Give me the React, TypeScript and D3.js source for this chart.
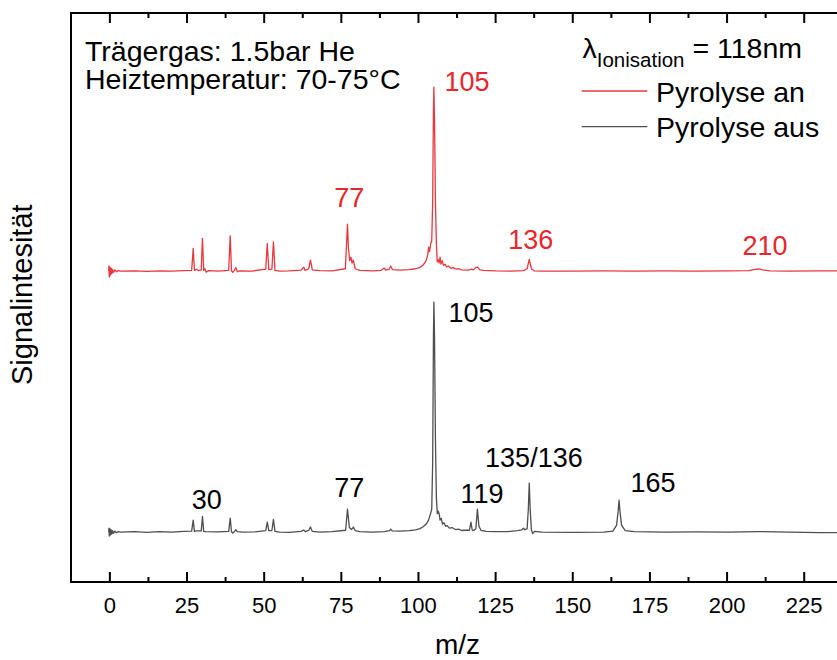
import React from "react";
import * as d3 from "d3";

// Mass spectra: [m/z, signal] pairs. Signal is relative (m/z 105 without pyrolysis = 100).
const ausTrace: [number, number][] = [
  [-0.4, 0], [-0.3, 1.7], [-0.2, -1.7], [-0.1, 1.5], [0, -1.4], [0.15, 1.2], [0.3, -1.1], [0.5, 0.9],
  [0.7, -0.8], [0.9, 0.6], [1.2, -0.5], [1.6, 0.4], [2.1, -0.3], [2.7, 0.2], [3.5, 0],
  [8, 0.2], [12, -0.1], [16, 0.2], [20, 0], [24, 0.3], [26.5, 0.4], [27, 5.2], [27.4, 0.3], [28, 0.5],
  [29.6, 0.5], [30, 6.8], [30.4, 0.3], [31, 0.2], [35, 0.1], [38.5, 0.3], [39, 6.1], [39.4, 0.2],
  [39.8, -0.4], [40.4, 0.3], [40.8, 1.1], [41.3, 0.2], [43, 0], [47, 0.1], [50.5, 0.6], [51, 4.3],
  [51.5, 0.6], [52.5, 0.7], [53, 5.5], [53.5, 0.3], [55, 0], [58, -0.1], [62, 0.3], [62.8, 0.9],
  [63.3, 0.2], [64.4, 0.7], [65, 2.2], [65.6, 0.3], [68, 0], [72, 0.2], [76.4, 0.8], [77, 10],
  [77.6, 2], [78.3, 1.1], [78.9, 2.2], [79.5, 0.6], [81, 0.2], [85, 0], [89, 0.2], [90.6, 0.6],
  [91, 1.3], [91.5, 0.5], [94, 0.4], [97, 0.6], [99, 1], [100.5, 1.5], [101.5, 2.3], [102.5, 3.5],
  [103.2, 5], [103.8, 7.5], [104.3, 10], [104.6, 30], [104.85, 85], [105, 100], [105.2, 85],
  [105.5, 40], [105.8, 15], [106.1, 8], [106.4, 9.1], [106.7, 8], [107, 5.2], [107.4, 6], [107.8, 3.5],
  [108.3, 4], [108.8, 2.5], [109.3, 2.8], [110, 1.7], [111, 1.9], [112, 1.1], [113, 1.3], [114, 0.7],
  [115, 0.8], [116.5, 0.8], [117, 4.3], [117.4, 0.9], [118, 0.8], [118.6, 1.5], [119.1, 10],
  [119.6, 2.5], [120.3, 0.7], [122, 0.3], [125, 0.2], [129, 0.2], [132, 0.6], [133.5, 1], [134, 1.7],
  [134.5, 1], [135.2, 1.5], [135.6, 10], [135.9, 21.3], [136.2, 10], [136.6, 1], [137, -0.6],
  [137.6, 0.3], [140, 0], [150, -0.1], [160, 0], [163, 0.4], [164.2, 3], [164.7, 9], [165, 13.9],
  [165.3, 9], [165.8, 3], [167, 0.6], [170, 0.2], [180, 0], [190, 0.1], [200, 0], [210, 0.2],
  [220, 0], [230, -0.2], [240, -0.3],
];

const anTrace: [number, number][] = [
  [-0.4, 0], [-0.3, 2.2], [-0.2, -2.6], [-0.1, 1.8], [0, -2], [0.15, 1.4], [0.3, -1.5], [0.5, 1.1],
  [0.7, -1], [0.9, 0.7], [1.2, -0.6], [1.6, 0.5], [2.1, -0.3], [2.7, 0.2], [3.5, 0],
  [8, 0.1], [12, -0.1], [16, 0.1], [20, 0], [24, 0.2], [26.5, 0.3], [27, 9.9], [27.4, 0.3], [28, 0.8],
  [28.6, 0.2], [29.6, 0.5], [30, 14.2], [30.4, 0.3], [30.8, 1], [31.2, -0.5], [32, 0.2], [35, 0],
  [38.5, 0.3], [39, 15.3], [39.4, 0.2], [39.8, -0.6], [40.4, 0.4], [40.8, 1.5], [41.3, -0.3], [42, 0.1],
  [46, 0], [50.5, 0.8], [51, 12], [51.5, 0.6], [52.5, 0.8], [53, 12.7], [53.5, 0.3], [55, 0], [58, 0.1],
  [62, 0.4], [62.8, 1.7], [63.3, 0.3], [64.4, 1], [65, 4.7], [65.6, 0.5], [68, 0.2], [72, 0.1],
  [76.3, 1], [76.7, 12], [77, 20.4], [77.3, 10], [77.7, 4.5], [78.1, 6], [78.5, 3.5], [78.9, 4.8],
  [79.5, 1], [81, 0.3], [85, 0.1], [88, 0.3], [88.9, 1.3], [89.4, 0.4], [90.5, 0.8], [91, 2.2],
  [91.6, 0.6], [94, 0.4], [97, 0.6], [99, 1], [100.5, 1.6], [101.5, 2.6], [102.5, 4.5], [103, 7],
  [103.3, 10.4], [103.6, 8.5], [104, 12.2], [104.3, 13], [104.6, 30], [104.85, 70], [105, 80],
  [105.2, 65], [105.5, 30], [105.8, 12], [106.1, 4], [106.4, 5], [106.7, 3.5], [107, 6], [107.3, 3],
  [107.7, 4.5], [108.1, 2.5], [108.6, 3], [109.1, 1.8], [109.7, 2.2], [110.5, 1.2], [111.3, 1.5],
  [112.2, 0.8], [113, 1], [114, 0.5], [116, 0.4], [117.3, 0.8], [117.8, 0.5], [118.6, 1.6],
  [119.2, 1.7], [119.8, 0.6], [121, 0.3], [125, 0.1], [130, 0], [134, 0.2], [135.2, 1], [135.9, 5.1],
  [136.6, 1], [137.5, 0.1], [140, 0], [150, 0], [160, 0.1], [170, 0], [180, 0.1], [190, 0],
  [200, 0.1], [207, 0.2], [209, 0.7], [210.3, 0.9], [211.5, 0.5], [214, 0.1], [220, 0], [230, 0.1],
  [240, 0],
];

// Vertical stacking offset of the "Pyrolyse an" spectrum
const anOffset = 113.5;

// Peak annotations: [text, m/z of label centre, signal at label baseline]
const anLabels: [string, number, number][] = [
  ["105", 115.7, 78.5],
  ["77", 77.6, 27.8],
  ["136", 136.4, 9.5],
  ["210", 212.3, 6.9],
];
const ausLabels: [string, number, number][] = [
  ["105", 117, 91.3],
  ["30", 31.4, 9.9],
  ["77", 77.6, 15.2],
  ["119", 120.6, 12.7],
  ["135/136", 137.4, 28.4],
  ["165", 176, 17.5],
];

const majorTicks = [0, 25, 50, 75, 100, 125, 150, 175, 200, 225];
const minorTicks = [12.5, 37.5, 62.5, 87.5, 112.5, 137.5, 162.5, 187.5, 212.5, 237.5];

const W = 837;
const H = 660;
const left = 71;
const top = 13;
const bottom = 582;

const FONT = "'Liberation Sans', Arial, Helvetica, sans-serif";
const RED = "#e8383d";
const RED_TEXT = "#e8262b";
const GREY = "#4f4f4f";

export default function App() {
  const x = d3.scaleLinear().domain([-12.6, 240]).range([left, 850.5]);
  const y = d3.scaleLinear().domain([-21.7, 225.7]).range([bottom, top]);

  const ausLine = d3
    .line<[number, number]>()
    .x((d) => x(d[0]))
    .y((d) => y(d[1]));
  const anLine = d3
    .line<[number, number]>()
    .x((d) => x(d[0]))
    .y((d) => y(d[1] + anOffset));

  return (
    <svg
      width={W}
      height={H}
      style={{ position: "absolute", left: 0, top: 0, background: "#fff" }}
      fontFamily={FONT}
    >
      <defs>
        <clipPath id="plot">
          <rect x={left} y={top} width={W - left} height={bottom - top} />
        </clipPath>
      </defs>

      <g clipPath="url(#plot)" fill="none" strokeLinejoin="round">
        <path d={ausLine(ausTrace) ?? ""} stroke={GREY} strokeWidth={1.3} />
        <path d={anLine(anTrace) ?? ""} stroke={RED} strokeWidth={1.3} />
      </g>

      {/* frame: left, bottom and top axes */}
      <g stroke="#000" strokeWidth={2} fill="none">
        <line x1={left} x2={W} y1={bottom} y2={bottom} />
        <line x1={left} x2={W} y1={top} y2={top} />
        <line x1={left} x2={left} y1={top - 1} y2={bottom + 1} />
        {majorTicks.map((t) => (
          <g key={"M" + t}>
            <line x1={x(t)} x2={x(t)} y1={bottom} y2={bottom - 10} />
            <line x1={x(t)} x2={x(t)} y1={top} y2={top + 10} />
          </g>
        ))}
        {minorTicks.map((t) => (
          <g key={"m" + t}>
            <line x1={x(t)} x2={x(t)} y1={bottom} y2={bottom - 5} />
            <line x1={x(t)} x2={x(t)} y1={top} y2={top + 5} />
          </g>
        ))}
      </g>

      <g fontSize={22} textAnchor="middle" fill="#000">
        {majorTicks.map((t) => (
          <text key={"l" + t} x={x(t)} y={613}>
            {t}
          </text>
        ))}
      </g>

      <text x={457.5} y={654} fontSize={28} textAnchor="middle" fill="#000">
        m/z
      </text>
      <text
        transform="translate(31.5,294.7) rotate(-90)"
        fontSize={29}
        textAnchor="middle"
        fill="#000"
      >
        Signalintesität
      </text>

      {/* experiment conditions */}
      <g fontSize={28.5} fill="#000">
        <text x={85} y={60.7}>Trägergas: 1.5bar He</text>
        <text x={85} y={88.5}>Heiztemperatur: 70-75°C</text>
      </g>

      {/* legend */}
      <g fontSize={28.5} fill="#000">
        <text x={582.5} y={58.3}>
          λ
          <tspan fontSize={20.5} dy={8.4}>
            Ionisation
          </tspan>
          <tspan dy={-8.4}> = 118nm</tspan>
        </text>
        <line x1={581.7} x2={647.3} y1={91} y2={91} stroke={RED} strokeWidth={1.3} />
        <text x={656} y={101.7}>Pyrolyse an</text>
        <line x1={581.7} x2={647.3} y1={126.7} y2={126.7} stroke={GREY} strokeWidth={1.3} />
        <text x={656} y={136.7}>Pyrolyse aus</text>
      </g>

      {/* peak labels */}
      <g fontSize={27} textAnchor="middle">
        {anLabels.map(([t, m, v]) => (
          <text key={"a" + t} x={x(m)} y={y(v + anOffset)} fill={RED_TEXT}>
            {t}
          </text>
        ))}
        {ausLabels.map(([t, m, v]) => (
          <text key={"b" + t} x={x(m)} y={y(v)} fill="#000">
            {t}
          </text>
        ))}
      </g>
    </svg>
  );
}
